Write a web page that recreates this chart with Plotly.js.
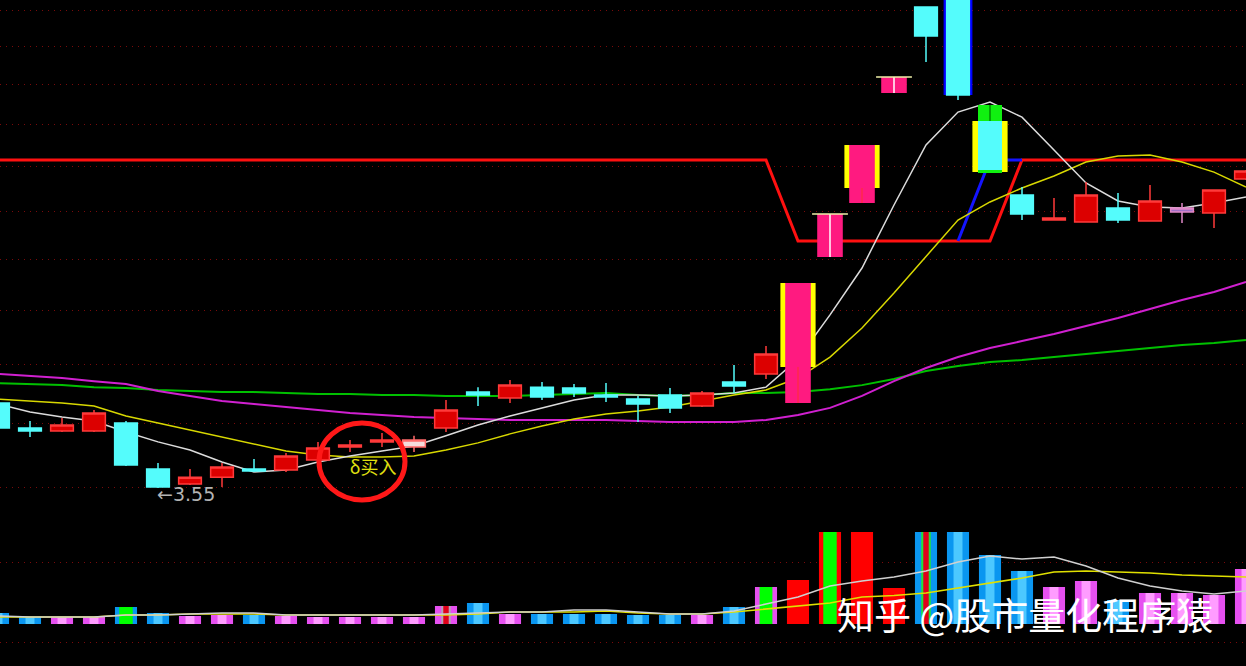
<!DOCTYPE html>
<html><head><meta charset="utf-8">
<script src="https://cdn.plot.ly/plotly-3.0.1.min.js"></script>
<style>html,body{margin:0;padding:0;background:#000;overflow:hidden}#chart{width:1246px;height:666px}</style>
</head><body><div id="chart"></div>
<script>
// ---------------- data ----------------
const days  = [0,1,2,3,4,5,6,7,8,9,10,11,12,13,14,15,16,17,18,19,20,21,22,23,24,25,26,27,28,29,30,31,32,33,34,35,36,37,38,39];
const open  = [3.980,3.848,3.833,3.833,3.874,3.642,3.569,3.602,3.642,3.637,3.686,3.751,3.777,3.751,3.848,4.039,4.007,4.066,4.061,4.023,4.001,4.023,3.964,4.094,4.139,3.980,4.844,5.210,6.041,6.782,6.960,5.944,5.266,5.092,5.078,5.175,5.085,5.147,5.140,5.381];
const high  = [3.991,3.885,3.901,3.943,3.885,3.671,3.642,3.671,3.691,3.721,3.777,3.787,3.823,3.808,3.996,4.066,4.105,4.094,4.083,4.088,4.018,4.061,4.045,4.189,4.298,4.678,5.133,5.633,6.173,6.782,7.000,5.944,5.323,5.245,5.360,5.281,5.338,5.210,5.302,5.446];
const low   = [3.838,3.802,3.828,3.828,3.656,3.550,3.564,3.555,3.627,3.627,3.676,3.726,3.751,3.726,3.828,3.964,3.980,3.996,4.012,3.985,3.880,3.927,3.959,4.034,4.111,3.980,4.844,5.210,6.041,6.299,5.984,5.424,5.092,5.092,5.078,5.072,5.085,5.072,5.038,5.374];
const close = [3.848,3.833,3.864,3.927,3.661,3.555,3.602,3.652,3.632,3.706,3.746,3.761,3.787,3.787,3.943,4.023,4.077,4.012,4.034,4.012,3.975,3.954,4.034,4.072,4.252,4.678,5.133,5.633,6.173,6.523,6.025,5.424,5.133,5.106,5.266,5.092,5.224,5.175,5.302,5.439];
// d = down, u = up, w = white, p = purple, L = limit-up (pink), S = special signal candle
const candleKind = ['d','d','u','u','d','d','u','u','d','u','u','u','u','w','u','d','u','d','d','d','d','d','u','d','u','L','L','L','L','d','d','S','d','u','u','d','u','p','u','u'];

const ma5  = [3.975,3.932,3.906,3.885,3.828,3.777,3.736,3.676,3.627,3.637,3.676,3.706,3.731,3.756,3.808,3.864,3.911,3.954,3.996,4.023,4.023,4.018,4.023,4.034,4.066,4.223,4.481,4.773,5.196,5.633,5.888,5.968,5.848,5.595,5.352,5.224,5.182,5.175,5.210,5.252];
const ma10 = [4.001,3.991,3.980,3.964,3.911,3.874,3.838,3.802,3.766,3.731,3.711,3.701,3.701,3.706,3.736,3.772,3.818,3.859,3.895,3.922,3.938,3.959,3.991,4.023,4.050,4.116,4.234,4.403,4.615,4.844,5.092,5.217,5.316,5.403,5.505,5.550,5.557,5.505,5.431,5.323];
const ma20 = [4.139,4.127,4.116,4.099,4.083,4.045,4.018,3.991,3.975,3.959,3.943,3.927,3.916,3.906,3.901,3.895,3.890,3.890,3.890,3.890,3.885,3.880,3.880,3.880,3.890,3.916,3.954,4.018,4.099,4.172,4.234,4.286,4.326,4.367,4.415,4.463,4.517,4.572,4.622,4.685];
const ma60 = [4.088,4.083,4.077,4.066,4.061,4.050,4.045,4.039,4.039,4.034,4.028,4.028,4.023,4.023,4.018,4.018,4.018,4.023,4.028,4.034,4.023,4.018,4.023,4.034,4.034,4.039,4.055,4.077,4.111,4.155,4.183,4.206,4.217,4.234,4.252,4.269,4.286,4.304,4.315,4.332];

// indicator level (red) and its blue switch segment
const level = [5.52,5.52,5.52,5.52,5.52,5.52,5.52,5.52,5.52,5.52,5.52,5.52,5.52,5.52,5.52,5.52,5.52,5.52,5.52,5.52,5.52,5.52,5.52,5.52,5.52,4.95,4.95,4.95,4.95,4.95,4.95,4.95,5.52,5.52,5.52,5.52,5.52,5.52,5.52,5.52];
const blueDays  = [30,31,32];
const blueLevel = [4.95,5.52,5.52];

// signal stripes (yellow) and inner box
const stripeDays = [25,27,31];
const stripeLow  = [4.178,5.316,5.431];
const stripeHigh = [4.678,5.633,5.817];
const innerDays = [31];
const innerLow  = [5.446];
const innerHigh = [5.817];
const outlinedDays = [30];

// grid price levels
const priceGrid = [3.55,3.87,4.19,4.51,4.83,5.15,5.47,5.79,6.11,6.43,6.75];
const lowDay = 5, lowLabel = '←3.55';
const signalText = 'δ买入';

// volume
const volume = [1.1,0.7,0.7,0.7,1.7,1.1,0.8,0.9,0.9,0.8,0.7,0.7,0.7,0.7,1.8,2.1,1.0,1.0,1.0,1.0,0.9,0.9,0.9,1.7,3.7,4.4,9.2,9.2,3.6,9.2,9.2,6.9,5.3,3.7,4.3,2.4,3.1,3.1,2.9,5.5];
const volKind = ['d','d','u','u','g','d','u','u','d','u','u','u','u','u','r','d','u','d','d','d','d','d','u','d','G','R','RG','R','R','DR','d','d','d','u','u','d','u','u','u','u'];
const volMA5  = [0.8,0.7,0.7,0.7,0.9,0.9,1.0,1.1,1.1,0.9,0.9,0.9,0.9,0.9,1.0,1.1,1.2,1.2,1.4,1.4,1.2,1.0,1.0,1.3,2.0,2.7,3.8,4.3,4.7,5.3,6.2,6.8,6.5,6.7,5.8,4.6,3.8,3.3,3.0,3.3];
const volMA10 = [0.7,0.7,0.7,0.7,0.9,0.9,1.0,1.0,1.0,0.9,0.9,0.9,0.9,0.9,0.9,1.0,1.2,1.2,1.2,1.3,1.1,1.0,1.0,1.2,1.5,1.8,2.1,2.7,2.85,3.1,3.6,4.1,4.6,5.2,5.3,5.2,5.1,4.9,4.8,4.7];
const volGrid = [-1.8,6.2];
const watermark = '知乎 @股市量化程序猿';

// ---------------- styles ----------------
const C = {red:'#dc0000', redLine:'#ff3a3a', cyan:'#54fcfc', pink:'#ff1a80', yellow:'#ffff00', green:'#10f010',
  white:'#f4dcdc', whiteLine:'#ff6a6a', purple:'#a070c8', purpleLine:'#e088c8', grid:'#7a0a0a'};
const volOuter = {d:'#0a96f0', g:'#0a96f0', DR:'#0a96f0', u:'#e650f0', r:'#e650f0', G:'#e650f0', R:'#ff0000', RG:'#ff0000'};
const volInner = {d:['#4cc8ff',0.28], g:['#00ff00',0.42], DR:['#20e040',0.30], u:['#ff9cff',0.28], r:['#b8a0b8',0.30], G:['#00ff00',0.40], R:['#ff0000',0.28], RG:['#00ff00',0.42]};
const volCore = {r:'#e0001a', DR:'#e0001a'};

const pick = (arr, idx) => idx.map(i => arr[i]);
const daysOf = k => days.filter(i => candleKind[i] === k);

const traces = [];
// ----- base subplot: indicator + moving averages -----
traces.push({type:'scatter', mode:'lines', x:days, y:level, xaxis:'x', yaxis:'y', line:{color:'#ff1010', width:3}, hoverinfo:'skip'});
traces.push({type:'scatter', mode:'lines', x:blueDays, y:blueLevel, xaxis:'x', yaxis:'y', line:{color:'#1414ff', width:3}, hoverinfo:'skip'});
traces.push({type:'scatter', mode:'lines', x:days, y:ma60, xaxis:'x', yaxis:'y', line:{color:'#00c000', width:2}, hoverinfo:'skip'});
traces.push({type:'scatter', mode:'lines', x:days, y:ma20, xaxis:'x', yaxis:'y', line:{color:'#d020d0', width:2}, hoverinfo:'skip'});
traces.push({type:'scatter', mode:'lines', x:days, y:ma10, xaxis:'x', yaxis:'y', line:{color:'#d8d800', width:1.5}, hoverinfo:'skip'});
traces.push({type:'scatter', mode:'lines', x:days, y:ma5, xaxis:'x', yaxis:'y', line:{color:'#dcdcdc', width:1.5}, hoverinfo:'skip'});

// ----- overlay subplot: candles -----
function bars(idx, lo, hi, width, color) {
  return {type:'bar', x:idx, base:lo, y:hi.map((h,k)=>h-lo[k]), width:width, xaxis:'x', yaxis:'y3',
          marker:{color:color, line:{width:0}}, hoverinfo:'skip'};
}
const ob = outlinedDays;
traces.push(bars(ob, ob.map(i=>Math.min(open[i],close[i])), ob.map(i=>Math.max(open[i],close[i])), 0.9, '#0000ff'));
traces.push(bars(stripeDays, stripeLow, stripeHigh, 1.1, C.yellow));
const Ld = daysOf('L');
traces.push(bars(Ld, Ld.map(i=>Math.min(open[i],close[i])), Ld.map(i=>Math.max(open[i],close[i])), 0.8, C.pink));
const Sd = daysOf('S');
traces.push(bars(Sd, Sd.map(i=>Math.min(open[i],close[i])), Sd.map(i=>Math.max(open[i],close[i])), 0.75, C.green));
traces.push(bars(innerDays, innerLow, innerHigh, 0.75, C.cyan));

function candles(kind, fill, line) {
  const idx = daysOf(kind);
  const st = {line:{color:line, width:1.5}, fillcolor:fill};
  return {type:'candlestick', x:idx, open:pick(open,idx), high:pick(high,idx), low:pick(low,idx), close:pick(close,idx),
          xaxis:'x', yaxis:'y3', increasing:st, decreasing:st, whiskerwidth:0, hoverinfo:'skip'};
}
traces.push(candles('d', C.cyan, C.cyan));
traces.push(candles('u', C.red, C.redLine));
traces.push(candles('w', C.white, C.whiteLine));
traces.push(candles('p', C.purple, C.purpleLine));

// centre lines and caps on the limit-up candles
function segs(list) { const x=[], y=[]; list.forEach(s=>{x.push(s[0],s[1],null); y.push(s[2],s[3],null);}); return {x,y}; }
const plainL = Ld.filter(i => !stripeDays.includes(i));
const wl = segs(plainL.map(i=>[i,i,low[i],high[i]]));
traces.push({type:'scatter', mode:'lines', x:wl.x, y:wl.y, xaxis:'x', yaxis:'y3', line:{color:'#ffffff', width:1.5}, hoverinfo:'skip'});
const cap = segs(plainL.map(i=>[i-0.56,i+0.56,high[i],high[i]]));
traces.push({type:'scatter', mode:'lines', x:cap.x, y:cap.y, xaxis:'x', yaxis:'y3', line:{color:'#f0f0a8', width:1.5}, hoverinfo:'skip'});
const stL = stripeDays.filter(i=>candleKind[i]==='L');
const rl = segs(stL.map(i=>[i,i,low[i],stripeLow[stripeDays.indexOf(i)]]));
traces.push({type:'scatter', mode:'lines', x:rl.x, y:rl.y, xaxis:'x', yaxis:'y3', line:{color:'#ff3030', width:1}, hoverinfo:'skip'});
const gl = segs(Sd.map(i=>[i,i,innerHigh[innerDays.indexOf(i)],high[i]]));
traces.push({type:'scatter', mode:'lines', x:gl.x, y:gl.y, xaxis:'x', yaxis:'y3', line:{color:'#008a00', width:1.5}, hoverinfo:'skip'});
// signal text
traces.push({type:'scatter', mode:'text', x:[11.72], y:[3.637], text:[signalText], xaxis:'x', yaxis:'y3',
  textfont:{family:'Noto Sans CJK SC, DejaVu Sans, sans-serif', size:18, color:'#e0e010'}, hoverinfo:'skip'});

// ----- volume subplot -----
traces.push({type:'bar', x:days, y:volume, width:0.69, xaxis:'x2', yaxis:'y2',
  marker:{color:volKind.map(k=>volOuter[k]), line:{width:0}}, hoverinfo:'skip'});
traces.push({type:'bar', x:days, y:volume, width:volKind.map(k=>volInner[k][1]), xaxis:'x2', yaxis:'y2',
  marker:{color:volKind.map(k=>volInner[k][0]), line:{width:0}}, hoverinfo:'skip'});
const coreDays = days.filter(i => volCore[volKind[i]]);
traces.push({type:'bar', x:coreDays, y:pick(volume,coreDays), width:0.17, xaxis:'x2', yaxis:'y2',
  marker:{color:coreDays.map(i=>volCore[volKind[i]]), line:{width:0}}, hoverinfo:'skip'});
traces.push({type:'scatter', mode:'lines', x:days, y:volMA10, xaxis:'x2', yaxis:'y2', line:{color:'#e0e000', width:1.5}, hoverinfo:'skip'});
traces.push({type:'scatter', mode:'lines', x:days, y:volMA5, xaxis:'x2', yaxis:'y2', line:{color:'#d0d0d0', width:1.5}, hoverinfo:'skip'});

const xr = [0.0625, 39.0];
const yr = [0.5344, 0.8355];
const layout = {
  width:1246, height:666, margin:{l:0,r:0,t:0,b:0,pad:0},
  paper_bgcolor:'#000', plot_bgcolor:'#000', showlegend:false, barmode:'overlay', hovermode:false, dragmode:false,
  boxmode:'overlay', boxgap:0.29, boxgroupgap:0,
  xaxis:{domain:[0,1], range:xr, visible:false, rangeslider:{visible:false}, fixedrange:true, anchor:'y'},
  yaxis:{domain:[0.2267,1], type:'log', range:yr, tickvals:priceGrid, showticklabels:false, ticks:'',
         showgrid:true, gridcolor:C.grid, griddash:'1px,5px', gridwidth:1, zeroline:false, showline:false, anchor:'x', fixedrange:true},
  yaxis3:{overlaying:'y', type:'log', range:yr, visible:false, showgrid:false, anchor:'x', fixedrange:true},
  xaxis2:{domain:[0,1], range:xr, visible:false, anchor:'y2', fixedrange:true, rangeslider:{visible:false}},
  yaxis2:{domain:[0,0.2192], range:[-4.2,10.4], tickvals:volGrid, showticklabels:false, ticks:'',
          showgrid:true, gridcolor:C.grid, griddash:'1px,5px', gridwidth:1, zeroline:false, showline:false, anchor:'x2', fixedrange:true},
  shapes:[{type:'circle', xref:'paper', yref:'paper', x0:319/1246, x1:405/1246, y0:(666-500)/666, y1:(666-423)/666,
           line:{color:'#ff1818', width:5}, layer:'above'}],
  annotations:[
    {xref:'x', yref:'y', x:lowDay-0.09, y:Math.log10(low[lowDay]), yshift:-6, xanchor:'left', yanchor:'middle',
     text:lowLabel, showarrow:false, font:{family:'DejaVu Sans, Liberation Sans, sans-serif', size:19, color:'#b4b4b4'}},
    {xref:'paper', yref:'paper', x:835/1246, y:(666-614)/666, xanchor:'left', yanchor:'middle',
     text:watermark, showarrow:false, font:{family:'Noto Sans CJK SC', size:37, color:'#ffffff'}}
  ]
};
Plotly.newPlot('chart', traces, layout, {staticPlot:true, displayModeBar:false});
</script></body></html>
